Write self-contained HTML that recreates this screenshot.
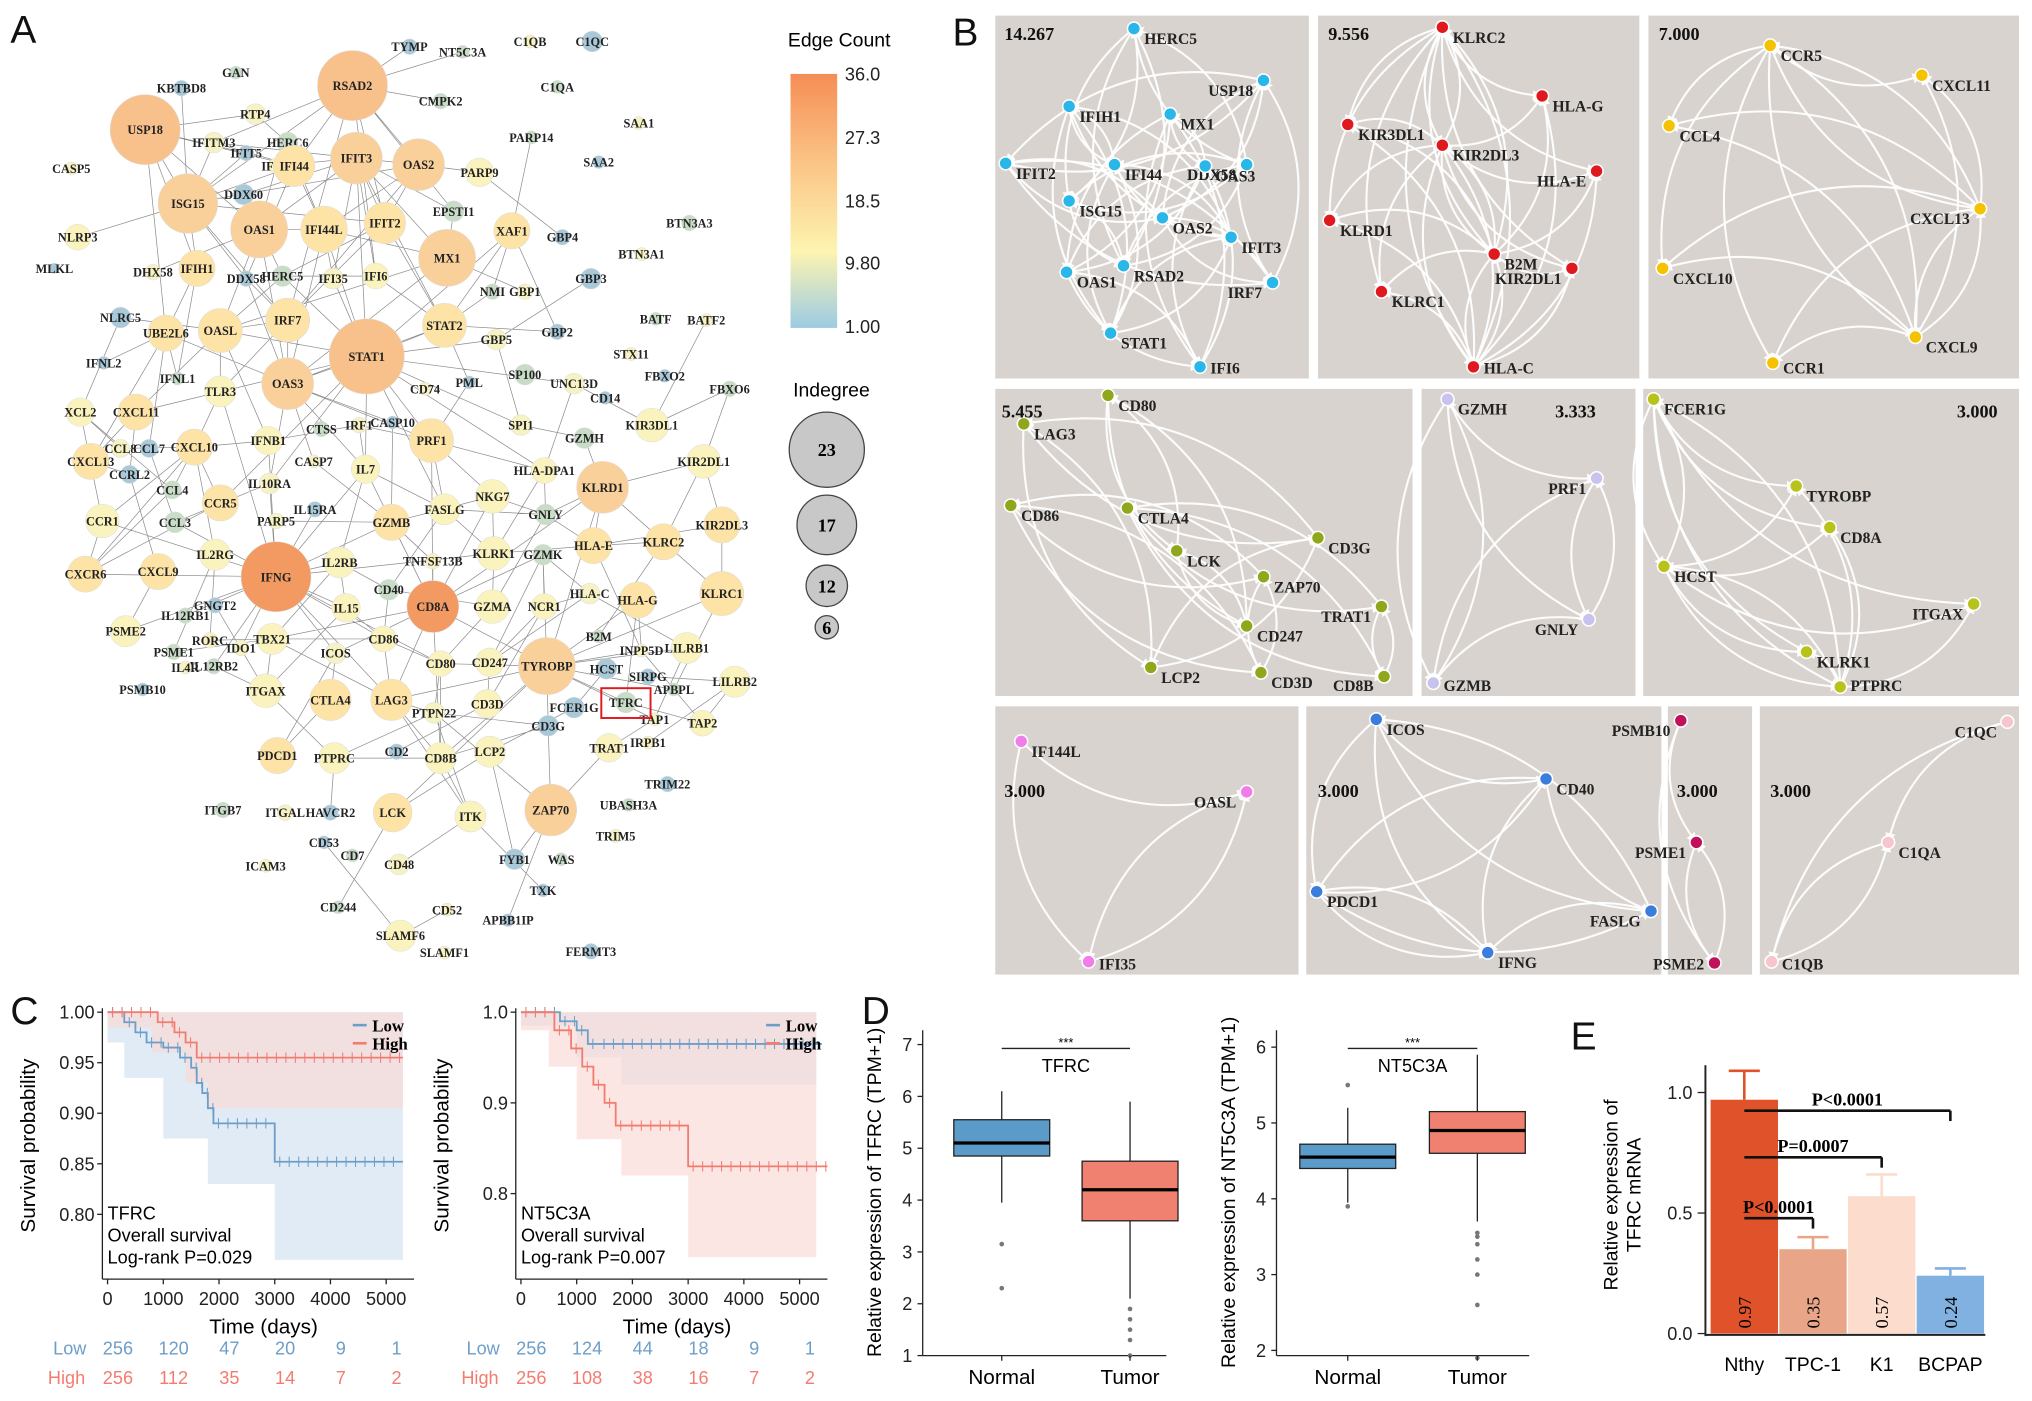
<!DOCTYPE html>
<html><head><meta charset="utf-8"><style>
html,body{margin:0;padding:0;background:#fff;}
svg{display:block;}
text{font-family:"Liberation Sans",sans-serif;}
.nl{font-family:"Liberation Serif",serif;font-weight:bold;font-size:9.5px;fill:#222;}
.bl{font-family:"Liberation Serif",serif;font-weight:bold;font-size:12px;fill:#222;}
.sc{font-family:"Liberation Serif",serif;font-weight:bold;font-size:14px;fill:#111;}
.pl{font-size:30px;fill:#111;}
.tk{font-size:14px;fill:#222;}
</style></head><body>
<svg id="fig" width="2032" height="1401" viewBox="0 0 1568 1081" xmlns="http://www.w3.org/2000/svg">
<defs>
<linearGradient id="cbar" x1="0" y1="0" x2="0" y2="1">
<stop offset="0" stop-color="#f58d55"/><stop offset="0.35" stop-color="#fbc486"/><stop offset="0.7" stop-color="#fdf4b0"/><stop offset="1" stop-color="#9dcbe3"/></linearGradient>
<marker id="arr" viewBox="0 0 10 10" refX="9" refY="5" markerWidth="5" markerHeight="5" orient="auto"><path d="M0,0L10,5L0,10z" fill="#fff"/></marker>
</defs>
<g id="pa"></g>
<g id="pb"></g>
<g id="pc"></g>
<g id="pd"></g>
<g id="pe"></g>
</svg>
<script>
const NS="http://www.w3.org/2000/svg";
function mk(p,tag,at,txt){const e=document.createElementNS(NS,tag);for(const k in at)e.setAttribute(k,at[k]);if(txt!==undefined)e.textContent=txt;p.appendChild(e);return e;}
const fig=document.getElementById('fig');

// ===== Panel A: network =====
const aNames=["KBTBD8","GAN","RTP4","TYMP","NT5C3A","C1QB","C1QC","C1QA","IFITM3","IFIT5","HERC6","IFI27","RSAD2","CMPK2","USP18","DDX60","IFI44","IFIT3","OAS2","PARP14","SAA1","SAA2","PARP9","CASP5","ISG15","OAS1","IFI44L","IFIT2","EPSTI1","XAF1","GBP4","BTN3A3","NLRP3","MLKL","IFIH1","DHX58","DDX58","HERC5","IFI35","IFI6","MX1","BTN3A1","GBP3","NMI","GBP1","NLRC5","UBE2L6","OASL","IRF7","STAT2","GBP5","GBP2","BATF","BATF2","IFNL2","STAT1","OAS3","TLR3","IFNL1","STX11","FBXO2","FBXO6","CD74","PML","SP100","UNC13D","CD14","XCL2","CXCL11","IFNB1","CTSS","IRF1","CASP10","PRF1","SPI1","KIR3DL1","CXCL13","CCL8","CCL7","CXCL10","CASP7","IL7","GZMH","HLA-DPA1","CCRL2","CCL4","IL10RA","KIR2DL1","KLRD1","CCR5","IL15RA","NKG7","PARP5","CCR1","CCL3","FASLG","GZMB","GNLY","KIR2DL3","CXCR6","CXCL9","IL2RG","IFNG","IL2RB","TNFSF13B","KLRK1","GZMK","HLA-E","KLRC2","CD40","HLA-C","HLA-G","KLRC1","IL15","NCR1","GZMA","CD8A","GNGT2","IL12RB1","RORC","PSME2","TBX21","IDO1","CD86","B2M","INPP5D","LILRB1","PSME1","ICOS","CD80","CD247","TYROBP","HCST","IL12RB2","IL4R","SIRPG","APBPL","LILRB2","PSMB10","ITGAX","CTLA4","LAG3","CD3D","PTPN22","FCER1G","TFRC","TAP1","TAP2","PDCD1","PTPRC","CD2","CD8B","LCP2","CD3G","TRAT1","IRPB1","TRIM22","ITGB7","ITGAL","HAVCR2","LCK","ITK","ZAP70","UBASH3A","TRIM5","CD53","CD7","CD48","FYB1","WAS","ICAM3","TXK","CD244","CD52","APBB1IP","SLAMF6","SLAMF1","FERMT3"];
const aX=[140,182,197,316,357,409,457,430,165,190,222,213,272,340,112,188,227,275,323,410,493,462,370,55,145,200,250,297,350,395,434,532,60,42,152,118,190,218,257,290,345,495,456,380,405,93,128,170,222,343,383,430,506,545,80,283,222,170,137,487,513,563,328,362,405,443,467,62,105,207,248,277,303,333,402,503,70,93,115,150,242,282,451,420,100,133,208,543,465,170,243,380,213,79,135,343,302,421,557,66,122,166,213,262,334,381,419,458,512,300,455,492,557,267,420,380,334,166,143,162,97,210,186,296,462,495,530,134,259,340,378,422,468,165,143,500,520,567,110,205,255,302,376,335,443,483,505,542,214,258,306,340,378,423,470,500,515,172,220,255,303,363,425,485,475,250,272,308,397,433,205,419,261,345,392,309,343,456];
const aY=[68,56,88,36,40,32,32,67,110,118,110,128,66,78,100,150,128,122,127,106,95,125,133,130,157,177,177,172,163,178,183,172,183,207,207,210,215,213,215,213,199,196,215,225,225,245,257,255,247,251,262,256,246,247,280,275,296,302,292,273,290,300,300,295,289,296,307,318,318,340,331,328,326,340,328,328,356,346,346,345,356,362,338,363,366,378,373,356,376,388,393,383,402,402,403,393,403,397,405,443,441,428,445,434,433,427,428,421,418,455,458,463,458,469,468,468,468,467,475,494,487,493,500,493,491,502,500,503,504,512,511,514,516,514,515,522,532,526,532,533,540,540,543,550,546,542,555,558,583,585,580,585,580,560,577,573,605,625,627,627,627,630,625,621,645,650,660,667,663,663,668,687,700,702,710,722,735,734];
const aR=[6,5,8,6,5,5,8,5,8,6,8,6,27,6,27,8,16,20,20,5,5,5,11,5,23,22,18,16,8,14,6,6,10,4,14,6,6,8,8,10,22,5,8,6,6,8,14,17,17,17,8,6,5,5,5,29,20,12,5,5,5,6,5,5,8,8,5,11,14,11,6,6,5,17,8,13,14,7,7,14,5,11,8,10,7,7,8,13,20,14,6,13,6,13,8,12,14,8,14,14,14,12,27,12,6,13,8,14,14,8,8,14,17,11,10,13,20,6,6,6,12,12,6,10,5,5,12,6,8,10,11,22,8,6,5,6,5,12,5,13,16,16,11,8,8,8,5,10,14,12,6,12,12,8,11,5,6,6,6,6,15,12,20,5,5,5,5,8,8,5,5,5,5,5,5,12,5,6];
function nodeColor(i){const r=aR[i];if(["IFNG","CD8A"].includes(aNames[i]))return "#f39a62";if(r>=25)return "#f8c08a";if(r>=19)return "#fad09a";if(r>=14)return "#fde3a6";if(r>=10)return "#fbf3bd";const g=["#a9c9d9","#c8dcc8","#f7f2c4"];return g[i%3];}
const pa=document.getElementById('pa');
const eg=mk(pa,'g',{});


let dd="";
for(let i=0;i<aX.length;i++){for(let j=i+1;j<aX.length;j++){const dx=aX[i]-aX[j],dy=aY[i]-aY[j];const d=Math.hypot(dx,dy);const big=aR[i]+aR[j];if((d<95&&(i*7+j*3)%4===0&&big>14)||(d<190&&big>36&&(i+j)%3===0)||(d<130&&big>26&&(i*j)%5===1)){dd+=`M${aX[i]},${aY[i]}L${aX[j]},${aY[j]}`;}}}
mk(eg,'path',{d:dd,stroke:'#666',"stroke-width":0.55,fill:'none',opacity:0.75});
for(let i=0;i<aX.length;i++){
 const g=mk(pa,'g',{});
 
 
 mk(g,'circle',{cx:aX[i],cy:aY[i],r:aR[i],fill:nodeColor(i),stroke:'#ddd',"stroke-width":0.4});
 mk(g,'text',{x:aX[i],y:aY[i]+3.5,"text-anchor":"middle",class:"nl"},aNames[i]);
}
const tb=mk(pa,'rect',{x:464,y:531,width:38,height:23,fill:'none',stroke:'#e0191f',"stroke-width":1.5});


const la=mk(pa,'text',{x:8,y:33,class:'pl'},'A');


const cb=mk(pa,'g',{});


mk(cb,'text',{x:608,y:36,style:'font-size:15px'},'Edge Count');
mk(cb,'rect',{x:610,y:57,width:36,height:196,fill:'url(#cbar)'});
[["36.0",57],["27.3",106],["18.5",155],["9.80",203],["1.00",252]].forEach(t=>{mk(cb,'line',{x1:646,x2:650,y1:t[1],y2:t[1],stroke:'#fff'});mk(cb,'text',{x:652,y:t[1]+5,class:'tk'},t[0]);});
const ig=mk(pa,'g',{});


mk(ig,'text',{x:612,y:306,style:'font-size:15px'},'Indegree');
[["23",347,29],["17",405,23],["12",452,16],["6",484,9]].forEach(t=>{mk(ig,'circle',{cx:638,cy:t[1],r:t[2],fill:'#c8c8c8',stroke:'#444',"stroke-width":1});mk(ig,'text',{x:638,y:t[1]+5,"text-anchor":"middle",style:'font-family:"Liberation Serif",serif;font-weight:bold;font-size:14px'},t[0]);});

// ===== Panel B: modules =====
const pb=document.getElementById('pb');
const lb=mk(pb,'text',{x:735,y:35,class:'pl'},'B');


const boxes=[
 {b:[768,12,242,280],c:"#29b6e8",s:["14.267",775,31],n:[["HERC5",875,22],["USP18",975,62],["IFIH1",825,82],["MX1",903,88],["DDX58",962,127],["IFIT2",776,126],["IFI44",860,127],["OAS3",930,128],["ISG15",825,155],["OAS2",897,168],["IFIT3",950,183],["OAS1",823,210],["RSAD2",867,205],["IRF7",982,218],["STAT1",857,257],["IFI6",926,283]]},
 {b:[1017,12,248,280],c:"#e0191f",s:["9.556",1025,31],n:[["KLRC2",1113,21],["HLA-G",1190,74],["KIR3DL1",1040,96],["KIR2DL3",1113,112],["HLA-E",1232,132],["KLRD1",1026,170],["B2M",1153,196],["KIR2DL1",1213,207],["KLRC1",1066,225],["HLA-C",1137,283]]},
 {b:[1272,12,286,280],c:"#f5c200",s:["7.000",1280,31],n:[["CCR5",1366,35],["CXCL11",1483,58],["CCL4",1288,97],["CXCL13",1528,161],["CXCL10",1283,207],["CCR1",1368,280],["CXCL9",1478,260]]},
 {b:[768,300,322,237],c:"#8fa71a",s:["5.455",773,322],n:[["CD80",855,305],["LAG3",790,327],["CD86",780,390],["CTLA4",870,392],["LCK",908,425],["CD3G",1017,415],["ZAP70",975,445],["TRAT1",1066,468],["CD247",962,483],["LCP2",888,515],["CD3D",973,519],["CD8B",1068,522]]},
 {b:[1097,300,165,237],c:"#c8c3ee",s:["3.333",1200,322],n:[["GZMH",1117,308],["PRF1",1232,369],["GNLY",1226,478],["GZMB",1106,527]]},
 {b:[1268,300,290,237],c:"#b7c21a",s:["3.000",1510,322],n:[["FCER1G",1276,308],["TYROBP",1386,375],["CD8A",1412,407],["HCST",1284,437],["ITGAX",1523,466],["KLRK1",1394,503],["PTPRC",1420,530]]},
 {b:[768,545,234,207],c:"#f07de8",s:["3.000",775,615],n:[["IF144L",788,572],["OASL",962,611],["IFI35",840,742]]},
 {b:[1008,545,274,207],c:"#3b7ddd",s:["3.000",1017,615],n:[["ICOS",1062,555],["CD40",1193,601],["PDCD1",1016,688],["FASLG",1274,703],["IFNG",1148,735]]},
 {b:[1287,545,65,207],c:"#c0125a",s:["3.000",1294,615],n:[["PSMB10",1297,556],["PSME1",1309,650],["PSME2",1323,743]]},
 {b:[1358,545,200,207],c:"#f7c6cc",s:["3.000",1366,615],n:[["C1QC",1549,557],["C1QA",1457,650],["C1QB",1367,742]]}];
boxes.forEach((bx,k)=>{
 const g=mk(pb,'g',{});
 
 
 mk(g,'rect',{x:bx.b[0],y:bx.b[1],width:bx.b[2],height:bx.b[3],fill:'#d8d3ce'});
 const n=bx.n;
 for(let i=0;i<n.length;i++)for(let j=0;j<n.length;j++){if(i===j)continue;
  const ok=n.length<=5?(i<j||(i+j)%3===0):((i*5+j*3)%(n.length>10?4:3)===0);
  if(!ok)continue;
  const mx=(n[i][1]+n[j][1])/2,my=(n[i][2]+n[j][2])/2,dx=n[j][1]-n[i][1],dy=n[j][2]-n[i][2];
  const cx=mx-dy*0.3,cy=my+dx*0.3;
  mk(g,'path',{d:`M${n[i][1]},${n[i][2]}Q${cx},${cy} ${n[j][1]},${n[j][2]}`,stroke:'#fff',"stroke-width":1.6,fill:'none',"marker-end":'url(#arr)',opacity:0.95});
 }
 const right=bx.b[0]+bx.b[2], bot=bx.b[1]+bx.b[3];
 n.forEach(q=>{mk(g,'circle',{cx:q[1],cy:q[2],r:5,fill:bx.c,stroke:'#fff',"stroke-width":1.2});
  const w=q[0].length*8;const ty=Math.min(q[2]+12,bot-4);
  if(q[1]+8+w>right-2){mk(g,'text',{x:q[1]-8,y:ty,"text-anchor":"end",class:'bl'},q[0]);}
  else mk(g,'text',{x:q[1]+8,y:ty,class:'bl'},q[0]);});
 mk(g,'text',{x:bx.s[1],y:bx.s[2],class:'sc'},bx.s[0]);
});

// ===== Panel C: survival =====
const kmTimes1Low=[0,300,500,700,1000,1300,1500,1600,1700,1800,1900,3000,5300];
const kmSurv1Low=[1.0,0.99,0.98,0.97,0.965,0.955,0.945,0.93,0.92,0.905,0.89,0.852,0.852];
const kmTimes1High=[0,900,1200,1400,1600,1750,5300];
const kmSurv1High=[1.0,0.99,0.98,0.97,0.955,0.955,0.955];
const kmTimes2Low=[0,700,1000,1200,1400,5400];
const kmSurv2Low=[1.0,0.99,0.98,0.965,0.965,0.965];
const kmTimes2High=[0,600,900,1100,1300,1500,1700,1900,3000,5500];
const kmSurv2High=[1.0,0.98,0.96,0.94,0.92,0.90,0.875,0.875,0.83,0.83];
const riskLow1=["256","120","47","20","9","1"],riskHigh1=["256","112","35","14","7","2"];
const riskLow2=["256","124","44","18","9","1"],riskHigh2=["256","108","38","16","7","2"];
const xTicksKM=[0,1000,2000,3000,4000,5000];
const pc=document.getElementById('pc');
const lc=mk(pc,'text',{x:8,y:790,class:'pl'},'C');


function km(o){
 const g=mk(pc,'g',{});
 
 
 const X=t=>o.x0+t*0.043, Y=s=>o.ytop+(o.ymax-s)*o.ys;
 const band=(pts,col,op)=>{let d=`M${X(0)},${Y(1)}H${X(5300)}`;pts.forEach(p=>{d+=`V${Y(p[1])}H${X(p[0])}`;});d+=`V${Y(0.995)}z`;mk(g,'path',{d:d,fill:col,opacity:op});};
 band(o.bandL,'#dbe8f3',0.85);
 band(o.bandH,'#fadcd8',0.7);
 const step=(T,S,col,nm)=>{let d=`M${X(T[0])},${Y(S[0])}`;for(let i=1;i<T.length;i++){d+=`H${X(T[i])}V${Y(S[i])}`;}
  const p=mk(g,'path',{d:d,stroke:col,"stroke-width":1.4,fill:'none'});
  
  
  for(let i=0;i<T.length-1;i++){for(let t=T[i]+90;t<T[i+1];t+=170){mk(g,'line',{x1:X(t),x2:X(t),y1:Y(S[i])-4,y2:Y(S[i])+4,stroke:col,"stroke-width":0.8});}}};
 step(o.tL,o.sL,'#6d9ec9','low-curve');step(o.tH,o.sH,'#f27c6f','high-curve');
 mk(g,'line',{x1:o.x0-4,x2:o.x0-4,y1:o.ytop-3,y2:o.ybot,stroke:'#222'});
 mk(g,'line',{x1:o.x0-4,x2:X(5500),y1:o.ybot,y2:o.ybot,stroke:'#222'});
 o.yt.forEach(v=>{mk(g,'line',{x1:o.x0-8,x2:o.x0-4,y1:Y(v),y2:Y(v),stroke:'#222'});mk(g,'text',{x:o.x0-10,y:Y(v)+5,"text-anchor":"end",class:'tk'},o.yfmt(v));});
 xTicksKM.forEach(v=>{mk(g,'line',{x1:X(v),x2:X(v),y1:o.ybot,y2:o.ybot+4,stroke:'#222'});mk(g,'text',{x:X(v),y:o.ybot+20,"text-anchor":"middle",class:'tk'},v);});
 mk(g,'text',{x:X(2800),y:o.ybot+42,"text-anchor":"middle",style:'font-size:16px'},'Time (days)');
 mk(g,'text',{transform:`translate(${o.x0-56},${(o.ytop+o.ybot)/2}) rotate(-90)`,"text-anchor":"middle",style:'font-size:16px'},'Survival probability');
 o.txt.forEach((s,i)=>mk(g,'text',{x:o.x0,y:o.ybot-46+i*17,style:'font-size:14px'},s));
 mk(g,'line',{x1:X(4400),x2:X(4650),y1:o.ytop+10,y2:o.ytop+10,stroke:'#6d9ec9',"stroke-width":2});
 mk(g,'text',{x:X(4750),y:o.ytop+15,style:'font-family:"Liberation Serif",serif;font-weight:bold;font-size:13px'},'Low');
 mk(g,'line',{x1:X(4400),x2:X(4650),y1:o.ytop+24,y2:o.ytop+24,stroke:'#f27c6f',"stroke-width":2});
 mk(g,'text',{x:X(4750),y:o.ytop+29,style:'font-family:"Liberation Serif",serif;font-weight:bold;font-size:13px'},'High');
 mk(g,'text',{x:o.x0-42,y:1045,style:'font-size:14px;fill:#6d9ec9'},'Low');
 mk(g,'text',{x:o.x0-46,y:1068,style:'font-size:14px;fill:#f27c6f'},'High');
 o.rl.forEach((s,i)=>mk(g,'text',{x:X(xTicksKM[i])+8,y:1045,"text-anchor":"middle",style:'font-size:14px;fill:#6d9ec9'},s));
 o.rh.forEach((s,i)=>mk(g,'text',{x:X(xTicksKM[i])+8,y:1068,"text-anchor":"middle",style:'font-size:14px;fill:#f27c6f'},s));
}
km({name:'km-tfrc',x0:83,ytop:781,ybot:987,ymax:1.0,ys:780,yt:[1.0,0.95,0.9,0.85,0.8],yfmt:v=>v.toFixed(2),tL:kmTimes1Low,sL:kmSurv1Low,tH:kmTimes1High,sH:kmSurv1High,
 bandL:[[5300,0.755],[3000,0.755],[3000,0.83],[1800,0.83],[1800,0.875],[1000,0.875],[1000,0.935],[300,0.935],[300,0.97],[0,0.97]],
 bandH:[[5300,0.905],[1800,0.905],[1800,0.93],[1400,0.93],[1400,0.96],[800,0.96],[800,0.985],[0,0.985]],
 txt:['TFRC','Overall survival','Log-rank P=0.029'],rl:riskLow1,rh:riskHigh1});
km({name:'km-nt5c3a',x0:402,ytop:781,ybot:987,ymax:1.0,ys:700,yt:[1.0,0.9,0.8],yfmt:v=>v.toFixed(1),tL:kmTimes2Low,sL:kmSurv2Low,tH:kmTimes2High,sH:kmSurv2High,
 bandL:[[5300,0.92],[1800,0.92],[1800,0.95],[1000,0.95],[1000,0.985],[0,0.985]],
 bandH:[[5300,0.73],[3000,0.73],[3000,0.82],[1800,0.82],[1800,0.86],[1000,0.86],[1000,0.94],[500,0.94],[500,0.98],[0,0.98]],
 txt:['NT5C3A','Overall survival','Log-rank P=0.007'],rl:riskLow2,rh:riskHigh2});

// ===== Panel D: boxplots =====
const boxGroups=["Normal","Tumor"];
const tfrcStats=[[3.95,4.85,5.1,5.55,6.1],[2.1,3.6,4.2,4.75,5.9]];
const tfrcOut=[[3.15,2.3],[1.9,1.7,1.5,1.3,1.0]];
const ntStats=[[3.95,4.4,4.55,4.72,5.2],[3.7,4.6,4.9,5.15,5.9]];
const ntOut=[[5.5,3.9],[3.55,3.5,3.4,3.2,3.0,2.6,1.9]];
const pd=document.getElementById('pd');
const ld=mk(pd,'text',{x:665,y:790,class:'pl'},'D');


function bp(o){
 const g=mk(pd,'g',{});
 
 
 const Y=v=>o.y0-(v-o.v0)*o.ys;
 mk(g,'line',{x1:o.x0,x2:o.x0,y1:o.yt1,y2:1046,stroke:'#222'});
 mk(g,'line',{x1:o.x0,x2:o.x1,y1:1046,y2:1046,stroke:'#222'});
 o.ticks.forEach(v=>{mk(g,'line',{x1:o.x0-4,x2:o.x0,y1:Y(v),y2:Y(v),stroke:'#222'});mk(g,'text',{x:o.x0-8,y:Y(v)+5,"text-anchor":"end",class:'tk'},v);});
 const cols=['#5b9bc9','#f08070'];
 boxGroups.forEach((gn,i)=>{const cx=o.cx[i],s=o.st[i];
  const bg=mk(g,'g',{});
  
  
  mk(bg,'line',{x1:cx,x2:cx,y1:Y(s[0]),y2:Y(s[4]),stroke:'#222'});
  mk(bg,'rect',{x:cx-37,y:Y(s[3]),width:74,height:Y(s[1])-Y(s[3]),fill:cols[i],stroke:'#222'});
  mk(bg,'line',{x1:cx-37,x2:cx+37,y1:Y(s[2]),y2:Y(s[2]),stroke:'#000',"stroke-width":2.5});
  o.out[i].forEach(v=>mk(bg,'circle',{cx:cx,cy:Y(v),r:1.8,fill:'#777'}));
  mk(g,'line',{x1:cx,x2:cx,y1:1046,y2:1050,stroke:'#222'});
  mk(g,'text',{x:cx,y:1068,"text-anchor":"middle",style:'font-size:16px'},gn);});
 mk(g,'line',{x1:o.cx[0],x2:o.cx[1],y1:o.by,y2:o.by,stroke:'#222'});
 mk(g,'text',{x:(o.cx[0]+o.cx[1])/2,y:o.by-1,"text-anchor":"middle",style:'font-size:10px'},'***');
 mk(g,'text',{x:(o.cx[0]+o.cx[1])/2,y:o.by+18,"text-anchor":"middle",style:'font-size:14px'},o.gene);
 mk(g,'text',{transform:`translate(${o.x0-32},${920}) rotate(-90)`,"text-anchor":"middle",style:'font-size:15px'},o.ylab);
}
bp({name:'boxplot-tfrc',x0:712,x1:900,y0:806,v0:7,ys:40,yt1:795,ticks:[7,6,5,4,3,2,1],cx:[773,872],st:tfrcStats,out:tfrcOut,by:809,gene:'TFRC',ylab:'Relative expression of TFRC (TPM+1)'});
bp({name:'boxplot-nt5c3a',x0:985,x1:1180,y0:808,v0:6,ys:58.5,yt1:795,ticks:[6,5,4,3,2],cx:[1040,1140],st:ntStats,out:ntOut,by:809,gene:'NT5C3A',ylab:'Relative expression of NT5C3A (TPM+1)'});

// ===== Panel E: bars =====
const barCats=["Nthy","TPC-1","K1","BCPAP"];
const barVals=[0.97,0.35,0.57,0.24];
const barErr=[0.12,0.05,0.09,0.03];
const barLabels=["0.97","0.35","0.57","0.24"];
const pValues=["P<0.0001","P=0.0007","P<0.0001"];
const pe=document.getElementById('pe');
const le=mk(pe,'text',{x:1212,y:810,class:'pl'},'E');


const eY=v=>1029-v*186, eX=i=>1320+i*53;
const barCols=['#e0522a','#e9a587','#fcdccc','#80b1e0'];
const ax=mk(pe,'g',{});


mk(ax,'line',{x1:1316,x2:1316,y1:822,y2:1031,stroke:'#222',"stroke-width":1.5});
mk(ax,'line',{x1:1316,x2:1532,y1:1030,y2:1030,stroke:'#222',"stroke-width":1.5});
[0,0.5,1.0].forEach(v=>{mk(ax,'line',{x1:1310,x2:1316,y1:eY(v),y2:eY(v),stroke:'#222'});mk(ax,'text',{x:1306,y:eY(v)+5,"text-anchor":"end",class:'tk'},v.toFixed(1));});
mk(ax,'text',{transform:'translate(1248,922) rotate(-90)',"text-anchor":"middle",style:'font-size:15px'},'Relative expression of');
mk(ax,'text',{transform:'translate(1266,922) rotate(-90)',"text-anchor":"middle",style:'font-size:15px'},'TFRC mRNA');
barCats.forEach((c,i)=>{
 const g=mk(pe,'g',{});
 
 
 mk(g,'line',{x1:eX(i)+26,x2:eX(i)+26,y1:eY(barVals[i]),y2:eY(barVals[i]+barErr[i]),stroke:barCols[i],"stroke-width":2});
 mk(g,'line',{x1:eX(i)+14,x2:eX(i)+38,y1:eY(barVals[i]+barErr[i]),y2:eY(barVals[i]+barErr[i]),stroke:barCols[i],"stroke-width":2});
 mk(g,'rect',{x:eX(i),y:eY(barVals[i]),width:52,height:1029-eY(barVals[i]),fill:barCols[i]});
 mk(g,'text',{transform:`translate(${eX(i)+31},1025) rotate(-90)`,style:'font-family:"Liberation Serif",serif;font-size:14px'},barLabels[i]);
 mk(g,'text',{x:eX(i)+26,y:1058,"text-anchor":"middle",style:'font-size:15px'},c);
});
[[3,857],[2,893],[1,940]].forEach((b,k)=>{
 const g=mk(pe,'g',{});
 
 
 const x1=eX(0)+26,x2=eX(b[0])+26;
 mk(g,'line',{x1:x1,x2:x2,y1:b[1],y2:b[1],stroke:'#111',"stroke-width":2});
 mk(g,'line',{x1:x2,x2:x2,y1:b[1],y2:b[1]+8,stroke:'#111',"stroke-width":2});
 mk(g,'text',{x:(x1+x2)/2,y:b[1]-4,"text-anchor":"middle",style:'font-family:"Liberation Serif",serif;font-weight:bold;font-size:14px'},pValues[k]);
});
</script>
</body></html>
